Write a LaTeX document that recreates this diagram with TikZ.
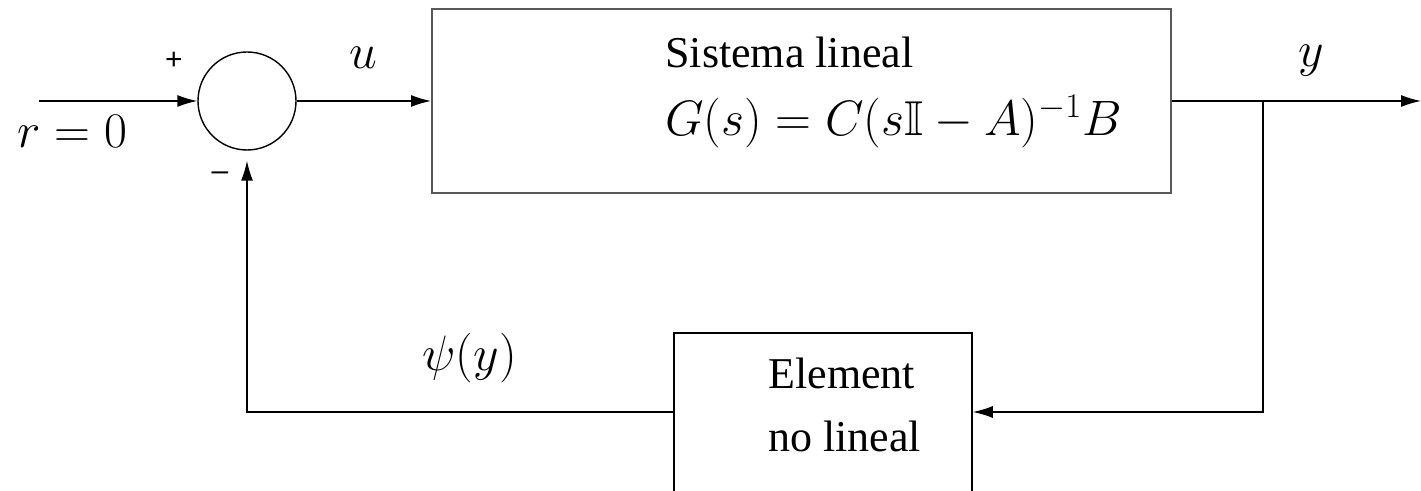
\documentclass[tikz,border=0pt]{standalone}
\usepackage{fontspec}
\setmainfont{Liberation Serif}
\setsansfont{Liberation Sans}
\usepackage{amssymb}
\usetikzlibrary{arrows.meta}
\begin{document}
\begin{tikzpicture}[x=0.5pt,y=-0.5pt,
  conn/.style={line width=0.7pt,black},
  arr/.style={conn,-{Latex[length=10pt,width=6pt]}},
  txt/.style={inner sep=0pt,anchor=base west,font=\fontsize{22}{26}\selectfont},
  mth/.style={inner sep=0pt,anchor=base west,font=\fontsize{24.5}{29}\selectfont},
  sgn/.style={inner sep=0pt,font=\sffamily\fontsize{15}{17}\selectfont}]
\useasboundingbox (0,0) rectangle (1421,491);
\clip (0,0) rectangle (1421,491);
% blocks
\node[circle,draw,line width=0.7pt,minimum size=49pt,inner sep=0pt] (sum) at (247,101) {};
\node[draw=black!65,line width=1pt,minimum width=369.5pt,minimum height=92pt,inner sep=0pt] (sys) at (801.5,101) {};
\node[draw,line width=0.8pt,minimum width=149pt,minimum height=95pt,inner sep=0pt] (nl) at (823,428) {};
% coordinates
\coordinate (in) at (39,101);
\coordinate (out) at (1421,101);
\coordinate (br) at (1263,101);
\coordinate (fbr) at (1263,412);
\coordinate (fbl) at (247,412);
% connectors
\draw[arr] (in) -- (sum.west);
\draw[arr] (sum.east) -- (sys.west);
\draw[arr] (sys.east) -- (out);
\draw[arr] (br) -- (fbr) -- (fbr -| nl.east);
\draw[arr,shorten >=5pt] (fbl -| nl.west) -- (fbl) -- (sum.south);
% labels
\node[txt] (t1) at (665,68) {Sistema lineal};
\node[mth] (t2) at (665,136) {$G(s)=C(s\mathbb{I}-A)^{-1}B$};
\node[mth] (r) at (17,148) {$r=0$};
\node[mth,anchor=center] (u) at (363,58) {$u$};
\node[mth] (y) at (1298,67) {$y$};
\node[mth] (psi) at (422,371) {$\psi(y)$};
\node[txt] (e1) at (768,389) {Element};
\node[txt] (e2) at (768,452) {no lineal};
\node[sgn] (plus) at (174,61) {+};
\node[sgn] (minus) at (220,176) {–};
\end{tikzpicture}
\end{document}
